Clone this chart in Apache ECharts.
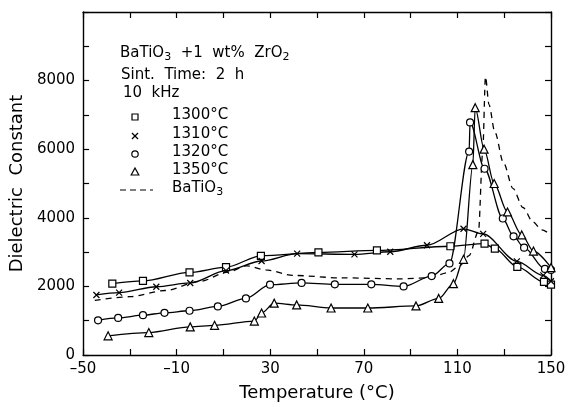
<!DOCTYPE html>
<html>
<head>
<meta charset="utf-8">
<script src="https://cdn.jsdelivr.net/npm/echarts@6/dist/echarts.min.js"></script>
<style>
html,body{margin:0;padding:0;background:#fff;}
#chart{width:570px;height:407px;}
</style>
</head>
<body>
<div id="chart"></div>
<script>
// ---- data (temperature °C, dielectric constant) ----
const t1300 = [-37.5, -24.4, -4.5, 11.1, 26, 50.6, 75.6, 107, 121.6, 126, 135.6, 147, 150];
const e1300 = [2080, 2160, 2410, 2560, 2890, 2990, 3050, 3170, 3250, 3100, 2570, 2130, 2050];

const t1310 = [-44.3, -34.6, -18.7, -4.2, 11.1, 26.3, 41.5, 66, 81.3, 97, 112.6, 121, 135.4, 146.7, 150];
const e1310 = [1750, 1820, 1990, 2100, 2460, 2740, 2955, 2935, 3010, 3200, 3680, 3530, 2730, 2320, 2150];

const t1320 = [-43.6, -35, -24.4, -15.2, -4.5, 7.6, 19.6, 29.9, 43.4, 57.6, 73.2, 87, 99, 106.6, 115, 115.4, 121.6, 129.4, 134, 138.5, 147.4, 150];
const e1320 = [1010, 1080, 1160, 1230, 1290, 1415, 1650, 2050, 2100, 2060, 2060, 2000, 2300, 2670, 5930, 6780, 5430, 3980, 3460, 3130, 2510, 2480];

const t1350 = [-39.3, -21.9, -4.2, 6.2, 23.2, 26.3, 31.7, 41.3, 56, 71.7, 92.3, 102, 108.3, 112.6, 116.6, 117.6, 121.4, 125.7, 131.4, 137.5, 142.5, 150];
const e1350 = [560, 655, 820, 865, 990, 1225, 1510, 1460, 1370, 1370, 1430, 1650, 2080, 2790, 5550, 7210, 6000, 5000, 4170, 3500, 3030, 2550];

const tBT = [-45, -30, -15, 0, 12, 20, 28, 40, 60, 85, 98, 106, 111, 115, 119, 120.8, 122, 123.5, 126, 129.7, 133.8, 138, 142.3, 146, 150];
const eBT = [1590, 1700, 1880, 2150, 2420, 2600, 2480, 2320, 2250, 2220, 2250, 2400, 2600, 2900, 3600, 5900, 8110, 7300, 6500, 5600, 4850, 4300, 3880, 3650, 3500];

const seriesNames = ['1300°C', '1310°C', '1320°C', '1350°C', 'BaTiO3'];
const xTicks = [-50, -10, 30, 70, 110, 150];
const yTicks = [0, 2000, 4000, 6000, 8000];

function zip(t, e) { return t.map((v, i) => [v, e[i]]); }

const FONT = 'DejaVu Sans';
const chart = echarts.init(document.getElementById('chart'), null, {renderer: 'canvas'});

const X_SYMBOL = 'path://M0,0L10,10M10,0L0,10';
const markStyle = {color: '#fff', borderColor: '#000', borderWidth: 1.2};

function markerSeries(name, data, symbol, size) {
  return {
    name: name, type: 'line', data: data,
    smooth: 0.3, smoothMonotone: 'x',
    symbol: symbol, symbolSize: size, showAllSymbol: true,
    lineStyle: {color: '#000', width: 1.3},
    itemStyle: markStyle,
    z: 3,
    animation: false
  };
}

const axisCommon = {
  axisLine: {show: true, onZero: false, lineStyle: {color: '#000', width: 1.4}},
  axisTick: {show: true, inside: true, length: 6, lineStyle: {color: '#000', width: 1.2}},
  splitLine: {show: false}
};

const option = {
  animation: false,
  backgroundColor: '#fff',
  grid: {left: 82, right: 19, top: 12, bottom: 44},
  xAxis: [
    Object.assign({
      type: 'value', min: -50, max: 150, interval: 20, position: 'bottom',
      name: 'Temperature (°C)', nameLocation: 'middle', nameGap: 29,
      nameTextStyle: {fontFamily: FONT, fontSize: 18, color: '#000'},
      axisLabel: {
        fontFamily: FONT, fontSize: 15, color: '#000', margin: 7,
        formatter: v => xTicks.indexOf(v) >= 0 ? String(v).replace('-', '–') : ''
      }
    }, axisCommon),
    Object.assign({
      type: 'value', min: -50, max: 150, interval: 20, position: 'top',
      axisLabel: {show: false}
    }, axisCommon)
  ],
  yAxis: [
    Object.assign({
      type: 'value', min: 0, max: 10000, interval: 1000, position: 'left',
      name: 'Dielectric  Constant', nameLocation: 'middle', nameGap: 47, nameRotate: 90,
      nameTextStyle: {fontFamily: FONT, fontSize: 18, color: '#000'},
      axisLabel: {
        fontFamily: FONT, fontSize: 15, color: '#000', margin: 8,
        formatter: v => yTicks.indexOf(v) >= 0 ? String(v) : ''
      }
    }, axisCommon),
    Object.assign({
      type: 'value', min: 0, max: 10000, interval: 1000, position: 'right',
      axisLabel: {show: false}
    }, axisCommon)
  ],
  series: [
    markerSeries(seriesNames[0], zip(t1300, e1300), 'rect', 7),
    markerSeries(seriesNames[1], zip(t1310, e1310), X_SYMBOL, 6),
    markerSeries(seriesNames[2], zip(t1320, e1320), 'circle', 7),
    markerSeries(seriesNames[3], zip(t1350, e1350), 'triangle', 8),
    {
      name: seriesNames[4], type: 'line', data: zip(tBT, eBT),
      smooth: 0.3, smoothMonotone: 'x', symbol: 'none',
      lineStyle: {color: '#000', width: 1.3, type: [6, 5]},
      z: 2, animation: false
    }
  ],
  graphic: [
    {type: 'text', left: 120, top: 46, style: {
      text: 'BaTiO{s|3}  +1  wt%  ZrO{s|2}', fill: '#000',
      font: '15px "DejaVu Sans"',
      rich: {s: {fontSize: 11, fontFamily: FONT, verticalAlign: 'bottom', padding: [8, 0, 0, 0]}}
    }},
    {type: 'text', left: 121, top: 68, style: {text: 'Sint.  Time:  2  h', fill: '#000', font: '15px "DejaVu Sans"'}},
    {type: 'text', left: 123, top: 86, style: {text: '10  kHz', fill: '#000', font: '15px "DejaVu Sans"'}},
    // legend markers
    {type: 'rect', shape: {x: 132, y: 114, width: 6, height: 6}, style: {fill: '#fff', stroke: '#000', lineWidth: 1.2}},
    {type: 'line', shape: {x1: 132, y1: 133, x2: 138, y2: 139}, style: {stroke: '#000', lineWidth: 1.2}},
    {type: 'line', shape: {x1: 138, y1: 133, x2: 132, y2: 139}, style: {stroke: '#000', lineWidth: 1.2}},
    {type: 'circle', shape: {cx: 135, cy: 154, r: 3.2}, style: {fill: '#fff', stroke: '#000', lineWidth: 1.2}},
    {type: 'polygon', shape: {points: [[135, 168], [138.8, 175], [131.2, 175]]}, style: {fill: '#fff', stroke: '#000', lineWidth: 1.2}},
    {type: 'line', shape: {x1: 120, y1: 190, x2: 153, y2: 190}, style: {stroke: '#000', lineWidth: 1.2, lineDash: [6, 4]}},
    {type: 'text', left: 172, top: 108, style: {text: '1300°C', fill: '#000', font: '15px "DejaVu Sans"'}},
    {type: 'text', left: 172, top: 127, style: {text: '1310°C', fill: '#000', font: '15px "DejaVu Sans"'}},
    {type: 'text', left: 172, top: 145, style: {text: '1320°C', fill: '#000', font: '15px "DejaVu Sans"'}},
    {type: 'text', left: 172, top: 163, style: {text: '1350°C', fill: '#000', font: '15px "DejaVu Sans"'}},
    {type: 'text', left: 172, top: 181, style: {
      text: 'BaTiO{s|3}', fill: '#000', font: '15px "DejaVu Sans"',
      rich: {s: {fontSize: 11, fontFamily: FONT, verticalAlign: 'bottom', padding: [8, 0, 0, 0]}}
    }}
  ]
};
chart.setOption(option);
</script>
</body>
</html>
